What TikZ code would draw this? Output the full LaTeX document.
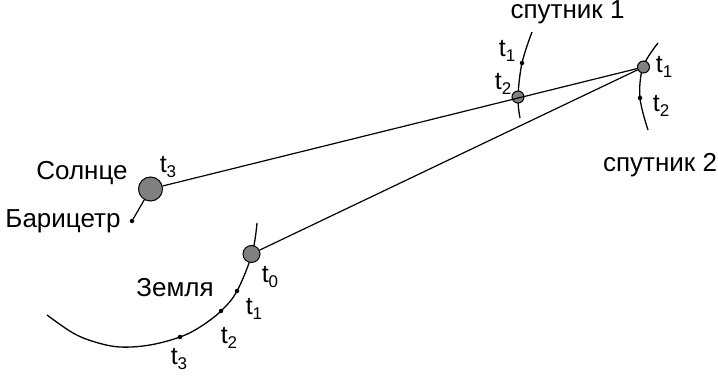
\documentclass[tikz,border=0pt]{standalone}
\usepackage{fontspec}
\setmainfont{Liberation Sans}
\definecolor{bodygray}{RGB}{128,128,128}
\newcommand{\tlab}[1]{t\raisebox{-5pt}{\fontsize{17}{17}\selectfont #1}}
\begin{document}
\begin{tikzpicture}[x=1pt,y=-1pt,
  body/.style={circle,draw=black,fill=bodygray,line width=1pt,inner sep=0pt},
  dotm/.style={circle,fill=black,inner sep=0pt,minimum size=4.5pt},
  conn/.style={line width=1.2pt},
  orbit/.style={line width=1.3pt},
  lbl/.style={font=\fontsize{26}{28}\selectfont,inner sep=0pt},
  tl/.style={font=\fontsize{25}{27}\selectfont,inner sep=0pt}]
\useasboundingbox (0,0) rectangle (718,379);
% orbits
\draw[orbit] plot[smooth,tension=0.6] coordinates {(532,32) (522,63) (518,97) (520,118)};
\draw[orbit] plot[smooth,tension=0.6] coordinates {(658,43) (643,67) (640,98) (648,130)};
\draw[orbit] plot[smooth,tension=0.6] coordinates {(257,223) (252,254) (237,291) (221,311) (200,327) (180,337) (150,345) (120,347) (95,342) (73,333) (47,315)};
% bodies
\node[body,minimum size=24pt] (sun) at (150.5,189) {};
\node[body,minimum size=12pt] (sat1) at (518,97) {};
\node[body,minimum size=12pt] (sat2) at (643.5,67) {};
\node[body,minimum size=17pt] (earth) at (251.5,254) {};
\node[dotm] (bary) at (132,221) {};
\node[dotm] (s1t1) at (522,63) {};
\node[dotm] (s2t2) at (640,98) {};
\node[dotm] (et1) at (237,291) {};
\node[dotm] (et2) at (221,311) {};
\node[dotm] (et3) at (180,337) {};
% connectors
\draw[conn] (sun) -- (sat2);
\draw[conn] (earth) -- (sat2);
\draw[conn] (sun) -- (bary);
% labels
\node[lbl,anchor=base] (l1) at (567.5,19) {спутник 1};
\node[lbl,anchor=base] (l2) at (660,172) {спутник 2};
\node[lbl,anchor=base] (lsun) at (82,180) {Солнце};
\node[lbl,anchor=base] (lbar) at (63,228) {Барицетр};
\node[lbl,anchor=base] (lear) at (175,297) {Земля};
\node[tl] (a1) at (507,51) {\tlab{1}};
\node[tl] (a2) at (503,84) {\tlab{2}};
\node[tl] (b1) at (664,67) {\tlab{1}};
\node[tl] (b2) at (661,106) {\tlab{2}};
\node[tl] (c3) at (168,167) {\tlab{3}};
\node[tl] (e0) at (270,277) {\tlab{0}};
\node[tl] (e1) at (254,309) {\tlab{1}};
\node[tl] (e2) at (229,338) {\tlab{2}};
\node[tl] (e3) at (179,359) {\tlab{3}};
\end{tikzpicture}
\end{document}
